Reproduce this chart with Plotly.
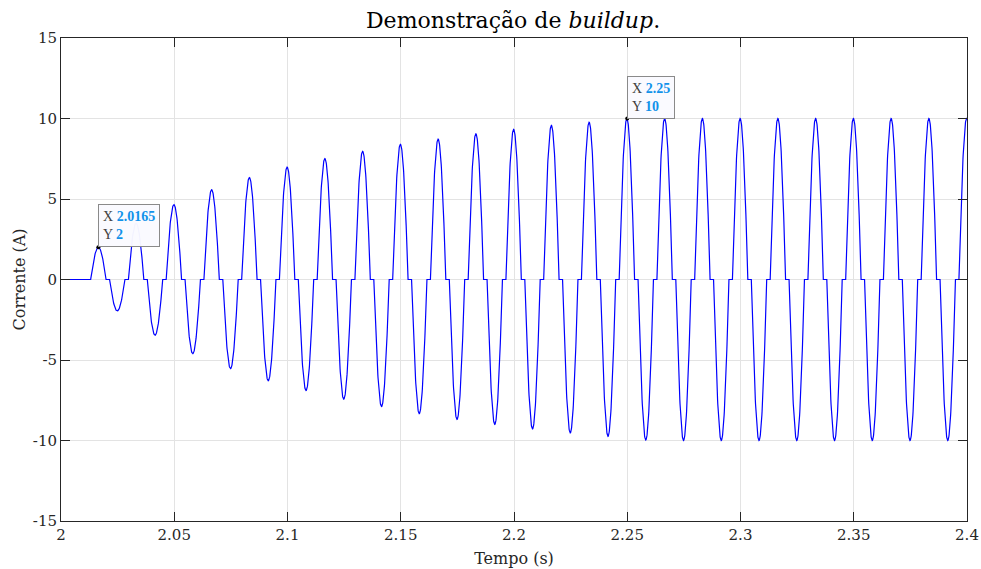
import numpy as np
import plotly.graph_objects as go

# ---- data ----
first_peak_time = 2.0165          # s, first current peak
half_period = 1.0 / 120.0          # s, 60 Hz half-cycle spacing of the pulses
pulse_half_width = 0.0034          # s, conduction half-width of each pulse
# signed peak value of each half-cycle pulse (A)
pulse_peaks = [2.0, -1.95, 3.5, -3.46, 4.65, -4.61, 5.57, -5.54, 6.33, -6.29,
               6.98, -6.90, 7.51, -7.43, 7.96, -7.89, 8.40, -8.33, 8.72, -8.69,
               9.05, -9.00, 9.32, -9.28, 9.57, -9.53, 9.77, -9.74, 10.0, -9.97,
               10.0, -10.0, 10.0, -10.0, 10.0, -10.0, 10.0, -10.0, 10.0, -10.0,
               10.0, -10.0, 10.0, -10.0, 10.0, -10.0, 10.0]
t_start, t_end = 2.0, 2.4
x_tick_vals = [2.0, 2.05, 2.1, 2.15, 2.2, 2.25, 2.3, 2.35, 2.4]
x_tick_text = ["2", "2.05", "2.1", "2.15", "2.2", "2.25", "2.3", "2.35", "2.4"]
y_tick_vals = [-15, -10, -5, 0, 5, 10, 15]
y_tick_text = ["-15", "-10", "-5", "0", "5", "10", "15"]
tip_x = [2.0165, 2.25]
tip_y = [2, 10]
tip_xlabel = ["2.0165", "2.25"]
tip_ylabel = ["2", "10"]

# ---- build the waveform from the pulse peaks ----
w = 2 * np.pi * 60.0
sig = w * pulse_half_width
c = np.cos(sig)
ts = [t_start]
ys = [0.0]
for k, a in enumerate(pulse_peaks):
    tk = first_peak_time + k * half_period
    tt = np.linspace(tk - pulse_half_width, tk + pulse_half_width, 81)
    yy = a * (np.cos(w * (tt - tk)) - c) / (1 - c)
    yy = np.clip(yy, min(a, 0), max(a, 0))
    m = tt <= t_end
    ts.extend(tt[m].tolist())
    ys.extend(yy[m].tolist())
if ts[-1] < t_end:
    ts.append(t_end)
    ys.append(ys[-1])

SERIF = "DejaVu Serif"
TIPFONT = "Liberation Serif"
fig = go.Figure()
fig.add_trace(go.Scatter(x=ts, y=ys, mode="lines",
                         line=dict(color="#0000ff", width=1.2),
                         hoverinfo="skip", showlegend=False))
fig.add_trace(go.Scatter(x=tip_x, y=tip_y, mode="markers",
                         marker=dict(color="#000000", size=4),
                         hoverinfo="skip", showlegend=False))

blue = "#1192ea"
for x, y, xl, yl in zip(tip_x, tip_y, tip_xlabel, tip_ylabel):
    fig.add_annotation(
        x=x, y=y, xref="x", yref="y", showarrow=False,
        xanchor="left", yanchor="bottom", align="left",
        text=(f"X <b><span style='color:{blue}'>{xl}</span></b><br>"
              f"Y <b><span style='color:{blue}'>{yl}</span></b>"),
        font=dict(family=TIPFONT, size=14, color="#404040"),
        bgcolor="rgba(250,250,255,0.97)", bordercolor="#8a8a8a",
        borderwidth=1, borderpad=4)

axis_common = dict(
    showline=True, linecolor="#262626", linewidth=1, mirror="allticks",
    ticks="inside", ticklen=9, tickcolor="#262626", tickwidth=1,
    showgrid=True, gridcolor="#e3e3e3", gridwidth=1, zeroline=False,
    automargin=False,
    tickfont=dict(family=SERIF, size=15, color="#262626"),
)
fig.update_xaxes(range=[t_start, t_end], tickvals=x_tick_vals, ticktext=x_tick_text,
                 title=dict(text="Tempo (s)", font=dict(family=SERIF, size=16, color="#262626"),
                            standoff=9),
                 **axis_common)
fig.update_yaxes(range=[-15, 15], tickvals=y_tick_vals, ticktext=y_tick_text,
                 title=dict(text="Corrente (A)", font=dict(family=SERIF, size=16, color="#262626"),
                            standoff=3),
                 **axis_common)
fig.update_layout(
    width=981, height=569,
    margin=dict(l=61, r=14, t=38, b=48, autoexpand=False),
    paper_bgcolor="white", plot_bgcolor="white",
    font=dict(family=SERIF, color="#262626"),
    title=dict(text="Demonstração de <i>buildup</i>.", x=0.523, xanchor="center",
               y=0.978, yanchor="top",
               font=dict(family=SERIF, size=22, color="#000000")),
)
fig.write_html("out.html")
